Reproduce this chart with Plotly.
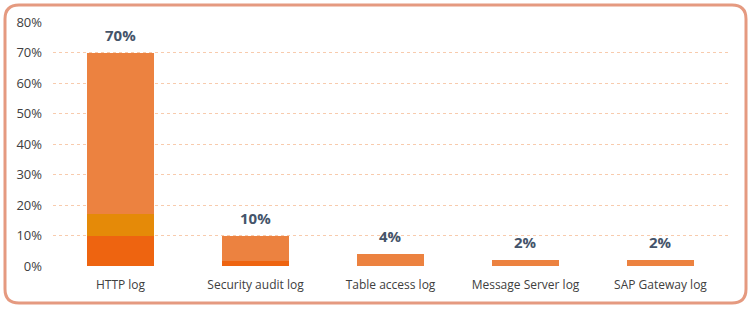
import plotly.graph_objects as go

categories = ["HTTP log", "Security audit log", "Table access log", "Message Server log", "SAP Gateway log"]
base_seg = [10, 1.5, 0, 0, 0]
mid_seg = [7, 0, 0, 0, 0]
top_seg = [53, 8.5, 4, 2, 2]
totals = [70, 10, 4, 2, 2]
label_text = ["70%", "10%", "4%", "2%", "2%"]
tick_vals = [0, 10, 20, 30, 40, 50, 60, 70, 80]
tick_text = ["0%", "10%", "20%", "30%", "40%", "50%", "60%", "70%", "80%"]

W, H = 751, 310
ML, MR, MT, MB = 53, 23, 22, 44
pw, ph = W - ML - MR, H - MT - MB

fig = go.Figure()
for vals, col in [(base_seg, "#EE6410"), (mid_seg, "#E58A08"), (top_seg, "#EC8240")]:
    fig.add_trace(go.Bar(x=categories, y=vals, marker=dict(color=col, line=dict(width=0)),
                         width=0.5, hoverinfo="skip", showlegend=False))

for c, t, s in zip(categories, totals, label_text):
    fig.add_annotation(x=c, y=t, text=s, showarrow=False, yanchor="bottom", yshift=6,
                       font=dict(family="Open Sans", size=15, color="#44546A", weight="bold"))

def px(x):
    return (x - ML) / pw

def py(y):
    return (H - MB - y) / ph

x0, x1, y0, y1, r = 5, 746, 5, 303, 14
path = (f"M {px(x0+r)},{py(y0)} L {px(x1-r)},{py(y0)} Q {px(x1)},{py(y0)} {px(x1)},{py(y0+r)} "
        f"L {px(x1)},{py(y1-r)} Q {px(x1)},{py(y1)} {px(x1-r)},{py(y1)} "
        f"L {px(x0+r)},{py(y1)} Q {px(x0)},{py(y1)} {px(x0)},{py(y1-r)} "
        f"L {px(x0)},{py(y0+r)} Q {px(x0)},{py(y0)} {px(x0+r)},{py(y0)} Z")
fig.add_shape(type="path", path=path, xref="paper", yref="paper",
              line=dict(color="#E59A80", width=3), layer="above")

fig.update_layout(
    width=W, height=H, margin=dict(l=ML, r=MR, t=MT, b=MB),
    barmode="stack", bargap=0.5,
    paper_bgcolor="white", plot_bgcolor="white",
    font=dict(family="Open Sans", size=12, color="#404040"),
    xaxis=dict(showgrid=False, showline=False, ticks="", ticklabelstandoff=10,
               tickfont=dict(size=12, color="#404040")),
    yaxis=dict(range=[0, 80], tickvals=tick_vals, ticktext=tick_text, showline=False, ticks="",
               ticklabelstandoff=10,
               gridcolor="#F8CBAD", griddash="dot", gridwidth=1, zeroline=False,
               tickfont=dict(size=13, color="#404040")),
)

fig.write_html("out.html")
